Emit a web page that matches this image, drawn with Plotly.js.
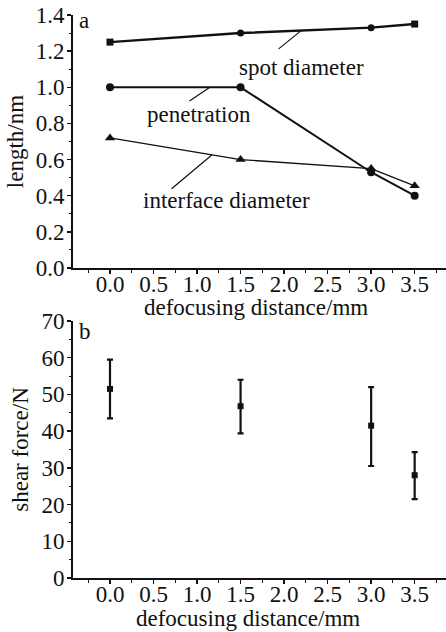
<!DOCTYPE html>
<html>
<head>
<meta charset="utf-8">
<script src="https://cdn.plot.ly/plotly-3.0.1.min.js"></script>
<style>html,body{margin:0;padding:0;background:#fff;}#chart{width:446px;height:632px;}</style>
</head>
<body>
<div id="chart"></div>
<script>
// ---- data ----
const distance = [0.0, 1.5, 3.0, 3.5];
const spotDiameter = [1.25, 1.30, 1.33, 1.35];
const spotSymbols = ['square', 'circle', 'circle', 'square'];
const penetration = [1.00, 1.00, 0.53, 0.40];
const interfaceDiameter = [0.72, 0.60, 0.55, 0.455];
const shearForce = [51.5, 46.8, 41.5, 28.0];
const shearErrPlus = [8.0, 7.2, 10.5, 6.3];
const shearErrMinus = [8.0, 7.4, 11.0, 6.5];
const xTickVals = [0.0, 0.5, 1.0, 1.5, 2.0, 2.5, 3.0, 3.5];
const xTickText = ['0.0', '0.5', '1.0', '1.5', '2.0', '2.5', '3.0', '3.5'];
const yTopTickVals = [0.0, 0.2, 0.4, 0.6, 0.8, 1.0, 1.2, 1.4];
const yTopTickText = ['0.0', '0.2', '0.4', '0.6', '0.8', '1.0', '1.2', '1.4'];
const yBotTickVals = [0, 10, 20, 30, 40, 50, 60, 70];
const yBotTickText = ['0', '10', '20', '30', '40', '50', '60', '70'];
const xTitle = 'defocusing distance/mm';

const FONT = 'Liberation Serif, Times New Roman, serif';
const FS = 23;

const traces = [
  {x: distance, y: spotDiameter, type: 'scatter', mode: 'lines+markers', name: 'spot diameter',
   line: {color: '#111', width: 2.4}, marker: {color: '#111', size: 7, symbol: spotSymbols},
   xaxis: 'x', yaxis: 'y'},
  {x: distance, y: penetration, type: 'scatter', mode: 'lines+markers', name: 'penetration',
   line: {color: '#111', width: 2}, marker: {color: '#111', size: 8, symbol: 'circle'},
   xaxis: 'x', yaxis: 'y'},
  {x: distance, y: interfaceDiameter, type: 'scatter', mode: 'lines+markers', name: 'interface diameter',
   line: {color: '#111', width: 1.4}, marker: {color: '#111', size: 9, symbol: 'triangle-up'},
   xaxis: 'x', yaxis: 'y'},
  {x: distance, y: shearForce, type: 'scatter', mode: 'markers', name: 'shear force',
   marker: {color: '#111', size: 6, symbol: 'square'},
   error_y: {type: 'data', symmetric: false, array: shearErrPlus, arrayminus: shearErrMinus,
             color: '#111', thickness: 2.2, width: 3},
   xaxis: 'x2', yaxis: 'y2'}
];

const xCommon = {
  range: [-0.425, 3.86], tickmode: 'array', tickvals: xTickVals, ticktext: xTickText,
  showline: true, linecolor: '#111', linewidth: 2, ticks: 'outside', ticklen: 4, tickwidth: 1.5,
  tickcolor: '#111', showgrid: false, zeroline: false, ticklabelstandoff: -10,
  tickfont: {family: FONT, size: FS, color: '#111'},
  minor: {ticks: 'outside', ticklen: 2.5, tickwidth: 1, tickcolor: '#111', dtick: 0.25, tick0: 0},
  fixedrange: true
};

const yCommon = {
  showline: true, linecolor: '#111', linewidth: 2, ticks: 'outside', ticklen: 4, tickwidth: 1.5,
  tickcolor: '#111', showgrid: false, zeroline: false, ticklabelstandoff: -2,
  tickfont: {family: FONT, size: FS, color: '#111'}, tickmode: 'array'
};

const layout = {
  width: 446, height: 632,
  margin: {l: 73, r: 0, t: 15, b: 54},
  paper_bgcolor: '#fff', plot_bgcolor: '#fff',
  showlegend: false,
  font: {family: FONT, size: FS, color: '#111'},
  xaxis: Object.assign({}, xCommon, {anchor: 'y'}),
  yaxis: Object.assign({}, yCommon, {
    domain: [0.5506, 1.0], range: [0, 1.4], anchor: 'x',
    tickvals: yTopTickVals, ticktext: yTopTickText,
    minor: {ticks: 'outside', ticklen: 2.5, tickwidth: 1, tickcolor: '#111', dtick: 0.1, tick0: 0},
    title: {text: 'length/nm', font: {family: FONT, size: FS, color: '#111'}, standoff: 6}
  }),
  xaxis2: Object.assign({}, xCommon, {anchor: 'y2'}),
  yaxis2: Object.assign({}, yCommon, {
    domain: [0, 0.4565], range: [0, 70], anchor: 'x2',
    tickvals: yBotTickVals, ticktext: yBotTickText,
    minor: {ticks: 'outside', ticklen: 2.5, tickwidth: 1, tickcolor: '#111', dtick: 5, tick0: 0},
    title: {text: 'shear force/N', font: {family: FONT, size: FS, color: '#111'}, standoff: 6}
  }),
  annotations: [
    {text: xTitle, xref: 'paper', yref: 'paper', x: 0.49, y: 0.4813, yanchor: 'middle',
     showarrow: false, font: {family: FONT, size: FS, color: '#111'}},
    {text: xTitle, xref: 'paper', yref: 'paper', x: 0.47, y: -0.072, yanchor: 'middle',
     showarrow: false, font: {family: FONT, size: FS, color: '#111'}},
    {text: 'a', xref: 'x domain', yref: 'y domain', x: 0.012, y: 1.035, xanchor: 'left', yanchor: 'top',
     showarrow: false, font: {family: FONT, size: FS, color: '#111'}},
    {text: 'b', xref: 'x2 domain', yref: 'y2 domain', x: 0.012, y: 1.015, xanchor: 'left', yanchor: 'top',
     showarrow: false, font: {family: FONT, size: FS, color: '#111'}},
    {text: 'spot diameter', xref: 'x', yref: 'y', x: 2.2, y: 1.112, showarrow: false,
     font: {family: FONT, size: FS, color: '#111'}},
    {text: 'penetration', xref: 'x', yref: 'y', x: 1.02, y: 0.852, showarrow: false,
     font: {family: FONT, size: FS, color: '#111'}},
    {text: 'interface diameter', xref: 'x', yref: 'y', x: 1.343, y: 0.376, showarrow: false,
     font: {family: FONT, size: FS, color: '#111'}},
    {text: '', xref: 'x', yref: 'y', x: 2.2, y: 1.315, axref: 'x', ayref: 'y', ax: 1.92, ay: 1.206,
     showarrow: true, arrowhead: 0, arrowwidth: 1.2, arrowcolor: '#111'},
    {text: '', xref: 'x', yref: 'y', x: 1.148, y: 1.0, axref: 'x', ayref: 'y', ax: 0.896, ay: 0.919,
     showarrow: true, arrowhead: 0, arrowwidth: 1.2, arrowcolor: '#111'},
    {text: '', xref: 'x', yref: 'y', x: 1.17, y: 0.625, axref: 'x', ayref: 'y', ax: 0.69, ay: 0.432,
     showarrow: true, arrowhead: 0, arrowwidth: 1.2, arrowcolor: '#111'}
  ]
};

Plotly.newPlot('chart', traces, layout, {staticPlot: true, displayModeBar: false});
</script>
</body>
</html>
